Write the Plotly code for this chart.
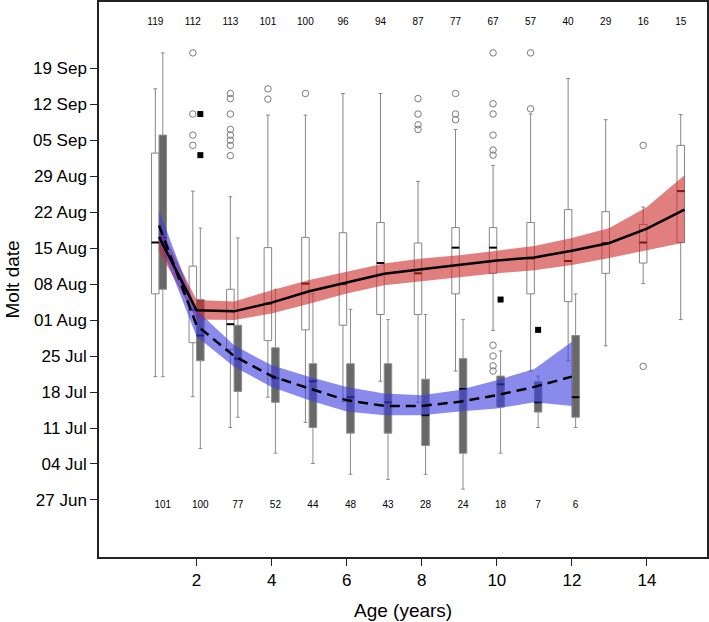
import plotly.graph_objects as go

# ---------------- data (days after 27 Jun) ----------------
ages = list(range(1, 16))
grey_ages = list(range(1, 13))

ytick_vals = [0, 7, 14, 21, 28, 35, 42, 49, 56, 63, 70, 77, 84]
ytick_text = ["27 Jun", "04 Jul", "11 Jul", "18 Jul", "25 Jul", "01 Aug", "08 Aug",
              "15 Aug", "22 Aug", "29 Aug", "05 Sep", "12 Sep", "19 Sep"]
xtick_vals = [2, 4, 6, 8, 10, 12, 14]

white_lo = [24.0, 20.1, 14.1, 20.0, 15.1, 19.1, 23.1, 19.0, 25.1, 33.0, 25.1, 27.1, 30.0, 42.1, 35.1]
white_q1 = [40.1, 30.6, 29.3, 31.0, 33.1, 34.0, 36.1, 36.1, 40.1, 44.1, 40.1, 38.6, 44.1, 46.1, 50.1]
white_med = [50.1, 37.0, 34.2, 38.2, 42.1, 42.0, 46.1, 44.1, 49.1, 49.1, 47.0, 46.5, 50.0, 50.1, 60.1]
white_q3 = [67.5, 45.5, 41.0, 49.1, 51.1, 52.0, 54.0, 50.0, 53.0, 53.0, 54.0, 56.5, 56.1, 53.6, 69.0]
white_hi = [80.0, 60.1, 59.0, 74.9, 74.9, 79.1, 79.1, 62.0, 72.1, 65.1, 75.1, 82.0, 74.0, 57.0, 75.0]

grey_lo = [24.0, 10.0, 16.1, 9.1, 7.1, 5.0, 4.0, 5.0, 2.1, 9.1, 14.1, 14.1]
grey_q1 = [41.0, 27.1, 21.1, 19.0, 14.1, 13.0, 13.0, 10.6, 9.1, 18.1, 17.1, 16.1]
grey_med = [51.0, 32.0, 27.5, 23.7, 23.1, 20.0, 19.0, 16.5, 21.6, 22.5, 19.0, 20.0]
grey_q3 = [71.0, 39.0, 34.0, 29.6, 26.5, 26.5, 26.5, 23.5, 27.5, 24.1, 23.0, 32.0]
grey_hi = [87.0, 52.9, 51.0, 41.0, 40.1, 37.1, 35.1, 36.1, 35.1, 29.0, 24.1, 40.1]

white_out_age = [2, 2, 2, 2,
                 3, 3, 3, 3, 3, 3, 3, 3,
                 4, 4, 5,
                 8, 8, 8, 8,
                 9, 9, 9,
                 10, 10, 10, 10, 10, 10, 10, 10, 10, 10,
                 11, 11, 14, 14]
white_out_val = [87.0, 75.1, 71.0, 69.0,
                 79.1, 78.1, 75.1, 72.1, 71.0, 70.0, 69.0, 67.0,
                 80.0, 78.0, 79.1,
                 78.1, 75.1, 73.0, 72.1,
                 79.1, 75.1, 74.0,
                 87.0, 77.1, 75.1, 71.0, 68.1, 67.1, 30.1, 28.0, 26.1, 25.1,
                 87.0, 76.1, 69.0, 26.0]
grey_out_age = [2, 2, 10, 11]
grey_out_val = [75.1, 67.1, 39.0, 33.1]

red_fit = [51.2, 36.9, 36.7, 38.4, 40.6, 42.3, 44.0, 44.9, 45.8, 46.6, 47.2, 48.5, 50.0, 52.8, 56.5]
red_lo = [48.5, 35.1, 35.0, 36.3, 38.2, 40.2, 41.8, 42.6, 43.4, 44.1, 44.7, 45.7, 47.1, 48.6, 50.1]
red_hi = [53.5, 38.9, 38.6, 40.8, 42.8, 44.4, 46.0, 47.0, 47.6, 48.5, 49.4, 51.0, 52.9, 57.0, 63.2]

blue_fit = [53.4, 34.0, 28.0, 24.1, 21.7, 19.4, 18.3, 18.3, 19.1, 20.4, 22.0, 24.0]
blue_lo = [50.5, 31.8, 25.9, 22.0, 19.4, 17.2, 16.5, 16.5, 17.2, 17.8, 19.0, 18.3]
blue_hi = [56.4, 36.9, 30.1, 26.2, 24.0, 22.0, 20.7, 20.4, 21.4, 23.3, 25.5, 30.8]

top_counts = [119, 112, 113, 101, 100, 96, 94, 87, 77, 67, 57, 40, 29, 16, 15]
bottom_counts = [101, 100, 77, 52, 44, 48, 43, 28, 24, 18, 7, 6]

# ---------------- figure ----------------
OFF = 0.1
wx = [a - OFF for a in ages]
gx = [a + OFF for a in grey_ages]
FONT = "Liberation Sans, Arial, sans-serif"

fig = go.Figure()

fig.add_trace(go.Box(x=wx, q1=white_q1, median=white_med, q3=white_q3,
                     lowerfence=white_lo, upperfence=white_hi,
                     width=0.2, whiskerwidth=0.5, fillcolor="white",
                     line=dict(color="#858585", width=1), boxpoints=False,
                     showlegend=False, hoverinfo="skip"))
fig.add_trace(go.Box(x=gx, q1=grey_q1, median=grey_med, q3=grey_q3,
                     lowerfence=grey_lo, upperfence=grey_hi,
                     width=0.2, whiskerwidth=0.5, fillcolor="#686868",
                     line=dict(color="#8c8c8c", width=1), boxpoints=False,
                     showlegend=False, hoverinfo="skip"))

# medians in black
fig.add_trace(go.Scatter(x=wx, y=white_med, mode="markers",
                         marker=dict(symbol="line-ew", size=5.4,
                                     line=dict(color="black", width=2)),
                         showlegend=False, hoverinfo="skip"))
fig.add_trace(go.Scatter(x=gx, y=grey_med, mode="markers",
                         marker=dict(symbol="line-ew", size=5.4,
                                     line=dict(color="black", width=2)),
                         showlegend=False, hoverinfo="skip"))

# outliers
fig.add_trace(go.Scatter(x=[a - OFF for a in white_out_age], y=white_out_val, mode="markers",
                         marker=dict(symbol="circle-open", size=6.5, color="#7a7a7a",
                                     line=dict(width=1)),
                         showlegend=False, hoverinfo="skip"))
fig.add_trace(go.Scatter(x=[a + OFF for a in grey_out_age], y=grey_out_val, mode="markers",
                         marker=dict(symbol="square", size=6, color="black"),
                         showlegend=False, hoverinfo="skip"))

# bands
fig.add_trace(go.Scatter(x=ages, y=red_lo, mode="lines", line=dict(width=0),
                         showlegend=False, hoverinfo="skip"))
fig.add_trace(go.Scatter(x=ages, y=red_hi, mode="lines", line=dict(width=0),
                         fill="tonexty", fillcolor="rgba(205,40,40,0.6)",
                         showlegend=False, hoverinfo="skip"))
fig.add_trace(go.Scatter(x=grey_ages, y=blue_lo, mode="lines", line=dict(width=0),
                         showlegend=False, hoverinfo="skip"))
fig.add_trace(go.Scatter(x=grey_ages, y=blue_hi, mode="lines", line=dict(width=0),
                         fill="tonexty", fillcolor="rgba(60,60,225,0.6)",
                         showlegend=False, hoverinfo="skip"))

# fitted lines
fig.add_trace(go.Scatter(x=ages, y=red_fit, mode="lines",
                         line=dict(color="black", width=2.5),
                         showlegend=False, hoverinfo="skip"))
fig.add_trace(go.Scatter(x=grey_ages, y=blue_fit, mode="lines",
                         line=dict(color="black", width=2.5, dash="10px,6px"),
                         showlegend=False, hoverinfo="skip"))

# sample sizes
fig.add_trace(go.Scatter(x=wx, y=[93.0] * len(wx), mode="text",
                         text=[str(c) for c in top_counts],
                         textfont=dict(size=10, color="black", family=FONT),
                         showlegend=False, hoverinfo="skip"))
fig.add_trace(go.Scatter(x=gx, y=[-1.1] * len(gx), mode="text",
                         text=[str(c) for c in bottom_counts],
                         textfont=dict(size=10, color="black", family=FONT),
                         showlegend=False, hoverinfo="skip"))

axis_common = dict(showline=True, mirror=True, linecolor="#222", linewidth=1.5,
                   showgrid=False, zeroline=False, ticks="outside", ticklen=7,
                   tickwidth=1, tickcolor="#222", automargin=False,
                   tickfont=dict(size=17, color="black", family=FONT))

fig.update_layout(
    width=709, height=622,
    margin=dict(l=99, r=2, t=2, b=65),
    paper_bgcolor="white", plot_bgcolor="white",
    boxmode="overlay",
    showlegend=False,
    font=dict(family=FONT, color="black"),
    xaxis=dict(range=[-0.6, 15.6], tickvals=xtick_vals, **axis_common),
    yaxis=dict(range=[-11.1, 96.9], tickvals=ytick_vals, ticktext=ytick_text,
               **axis_common),
    annotations=[
        dict(text="Age (years)", xref="paper", yref="paper", x=0.5, y=0,
             xanchor="center", yanchor="middle", yshift=-53, showarrow=False,
             font=dict(size=19, family=FONT, color="black")),
        dict(text="Molt date", xref="paper", yref="paper", x=0, y=0.5,
             xanchor="center", yanchor="middle", xshift=-87, textangle=-90,
             showarrow=False, font=dict(size=19, family=FONT, color="black")),
    ],
)

fig.write_html("out.html", config={"displayModeBar": False},
               post_script="document.body.style.margin='0px';document.body.style.overflow='hidden';")
